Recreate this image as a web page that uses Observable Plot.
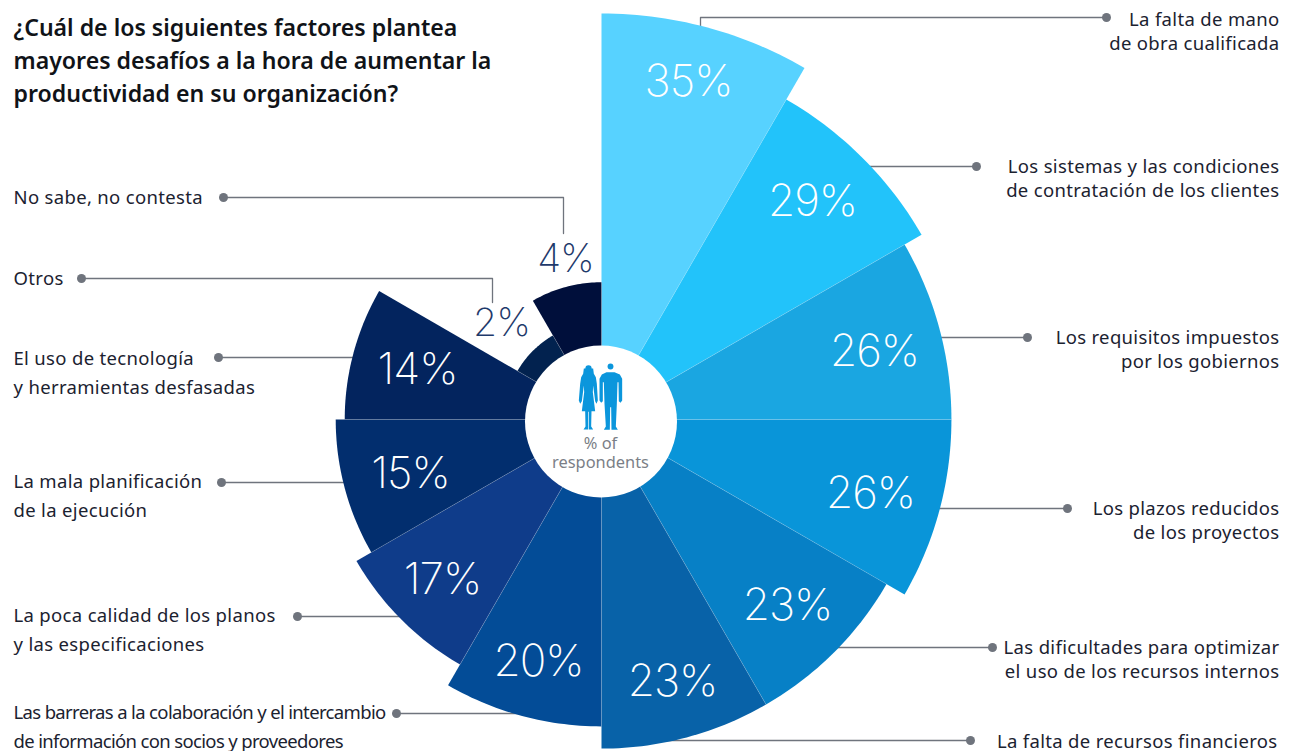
<!DOCTYPE html>
<html lang="es">
<head>
<meta charset="utf-8">
<script src="https://cdn.jsdelivr.net/npm/d3@7"></script>
<script src="https://cdn.jsdelivr.net/npm/@observablehq/plot@0.6"></script>
<style>
  html, body { margin: 0; background: #fff; }
  svg { display: block; }
</style>
</head>
<body>
<div id="chart"></div>
<script>
// Survey answers, clockwise from twelve o'clock
const factors = [
  "La falta de mano\nde obra cualificada",
  "Los sistemas y las condiciones\nde contratación de los clientes",
  "Los requisitos impuestos\npor los gobiernos",
  "Los plazos reducidos\nde los proyectos",
  "Las dificultades para optimizar\nel uso de los recursos internos",
  "La falta de recursos financieros",
  "Las barreras a la colaboración y el intercambio\nde información con socios y proveedores",
  "La poca calidad de los planos\ny las especificaciones",
  "La mala planificación\nde la ejecución",
  "El uso de tecnología\ny herramientas desfasadas",
  "Otros",
  "No sabe, no contesta"
];
const shares = [35, 29, 26, 26, 23, 23, 20, 17, 15, 14, 2, 4];
const wedgeColors = ["#57d2ff", "#22c3fa", "#1aa6e1", "#0995d9", "#0780c6", "#0862a8",
                     "#034c97", "#0f3c8a", "#022e6e", "#03245e", "#02224f", "#000f3b"];
const question = "¿Cuál de los siguientes factores plantea\nmayores desafíos a la hora de aumentar la\nproductividad en su organización?";

// Layout: centre of the rose, and where each percentage and caption sits
const cx = 601, cy = 419;
const radius = d3.scaleSqrt().domain([0, 35]).range([0, 406]);
const valueAt = [[688, 81], [812, 201], [874, 351], [870, 493], [787, 605], [672, 681],
                 [538, 661], [442, 579], [410, 473], [417, 369], [501, 323], [565, 259]];
const captionAt = [[1279, 30], [1279, 177], [1279, 348], [1279, 519], [1279, 658], [1277, 740],
                   [13, 724], [13, 627], [13, 493], [13, 370], [13, 275], [13, 194]];
const leaders = [
  [[1106, 17], [700, 17], [700, 30]],
  [[976, 166], [860, 166]],
  [[1027, 337], [940, 337]],
  [[1067, 508], [930, 508]],
  [[992, 647], [830, 647]],
  [[970, 740], [660, 740]],
  [[396, 713], [525, 713]],
  [[297, 616], [410, 616]],
  [[221, 482], [350, 482]],
  [[218, 357], [360, 357]],
  [[81, 278], [492, 278], [492, 302]],
  [[223, 197], [563, 197], [563, 233]]
];

const step = 30;
const polar = (r, deg) => {
  const a = deg * Math.PI / 180;
  return [cx + r * Math.sin(a), cy - r * Math.cos(a)];
};

// Each wedge is a closed outline: centre, then the arc at a radius set by its share
const wedgePoints = shares.flatMap((v, i) => {
  const pts = [{i, p: [cx, cy]}];
  for (let d = 0; d <= step; d++) pts.push({i, p: polar(radius(v), i * step + d)});
  return pts;
});

// Hairlines between neighbouring wedges, as long as the shorter of the two
const separators = shares.map((v, i) => ({
  a: [cx, cy],
  b: polar(radius(Math.min(v, shares[(i + shares.length - 1) % shares.length])), i * step)
}));

const leaderPoints = leaders.flatMap((line, i) => line.map(p => ({i, p})));
const rows = shares.map((v, i) => ({
  factor: factors[i], share: v, value: valueAt[i], caption: captionAt[i], dot: leaders[i][0], i
}));

// Pictogram of two people in the middle disc
const iconOrigin = [520, 340], iconScale = 1 / 3;
const iconShapes = [
  [[258,95],[282,95],[298,102],[305,115],[305,180],[300,187],[295,182],[294,125],[291,125],[289,190],[286,258],[292,268],[273,268],[272,200],[269,200],[268,268],[250,268],[256,258],[252,190],[250,125],[247,125],[247,182],[242,187],[237,180],[237,115],[244,102]],
  [[190,84],[218,84],[220,100],[226,110],[229,130],[232,180],[228,190],[224,182],[218,135],[217,155],[224,212],[213,212],[212,258],[218,267],[205,267],[205,214],[203,214],[203,267],[189,267],[195,258],[194,212],[184,212],[191,155],[190,135],[184,182],[179,190],[175,180],[179,130],[182,110],[188,100]]
];
const iconHeads = [[270, 78, 14], [204, 84, 16]];
const toPage = ([x, y]) => [iconOrigin[0] + x * iconScale, iconOrigin[1] + y * iconScale];
const iconPoints = iconShapes.flatMap((s, i) => s.map(p => ({i, p: toPage(p)})));

const bodyFont = "Noto Sans";
const px = d => d.p[0], py = d => d.p[1];
const rightSide = rows.filter(d => d.caption[0] > cx);
const leftSide = rows.filter(d => d.caption[0] < cx);

const chart = Plot.plot({
  width: 1292,
  height: 751,
  margin: 0,
  x: {domain: [0, 1292], range: [0, 1292], axis: null},
  y: {domain: [0, 751], range: [0, 751], axis: null},
  marks: [
    Plot.line(leaderPoints, {x: px, y: py, z: "i", stroke: "#6f747d", strokeWidth: 1.3, curve: "linear"}),
    Plot.line(wedgePoints, {x: px, y: py, z: "i", stroke: "none", curve: "linear",
      fill: d => wedgeColors[d.i]}),
    Plot.link(separators, {x1: d => d.a[0], y1: d => d.a[1], x2: d => d.b[0], y2: d => d.b[1],
      stroke: "#ffffff", strokeOpacity: 0.3, strokeWidth: 0.6}),
    Plot.dot([[600.5, 421]], {x: d => d[0], y: d => d[1], r: 76, fill: "#ffffff", stroke: "none"}),
    Plot.line(iconPoints, {x: px, y: py, z: "i", fill: "#0b96dc", stroke: "none", curve: "linear"}),
    Plot.dot(iconHeads, {x: d => toPage(d)[0], y: d => toPage(d)[1], r: d => d[2] * iconScale,
      fill: "#0b96dc", stroke: "none"}),
    Plot.text(["% of\nrespondents"], {x: () => 600, y: () => 452, text: d => d, fontFamily: bodyFont,
      fontSize: 16.4, lineHeight: 1.16, fill: "#7b7f87"}),
    Plot.dot(rows, {x: d => d.dot[0], y: d => d.dot[1], r: 4.5, fill: "#6f747d", stroke: "none"}),
    Plot.text(rows, {x: d => d.value[0], y: d => d.value[1], text: d => `${d.share}%`,
      fontFamily: "Inter", fontWeight: 200, fontSize: d => d.share < 10 ? 39 : 44,
      fill: d => d.share < 10 ? "#1f3a6b" : "#ffffff"}),
    Plot.text(rightSide, {x: d => d.caption[0], y: d => d.caption[1], text: "factor",
      textAnchor: "end", fontFamily: bodyFont, fontSize: 18.5, fill: "#1b2230", lineHeight: 1.3}),
    Plot.text(leftSide, {x: d => d.caption[0], y: d => d.caption[1], text: "factor",
      textAnchor: "start", fontFamily: bodyFont, fontSize: 18.5, fill: "#1b2230", lineHeight: 1.52}),
    Plot.text([question], {x: () => 13, y: () => 61, text: d => d, textAnchor: "start",
      fontFamily: bodyFont, fontWeight: 600, fontSize: 23.1, lineHeight: 1.43, fill: "#101318", dy: -3})
  ]
});

// Tracking tweaks the text mark has no option for
const tracking = s => {
  if (/^\d+%$/.test(s)) return -1;
  if (s.startsWith("Las barreras") || s.startsWith("de información")) return -0.65;
  return factors.some(f => f.includes(s)) ? 0.33 : 0;
};
chart.querySelectorAll("text").forEach(t => {
  const lines = t.querySelectorAll("tspan");
  if (lines.length) lines.forEach(l => l.setAttribute("letter-spacing", tracking(l.textContent)));
  else t.setAttribute("letter-spacing", tracking(t.textContent));
});
document.getElementById("chart").append(chart);
</script>
</body>
</html>
